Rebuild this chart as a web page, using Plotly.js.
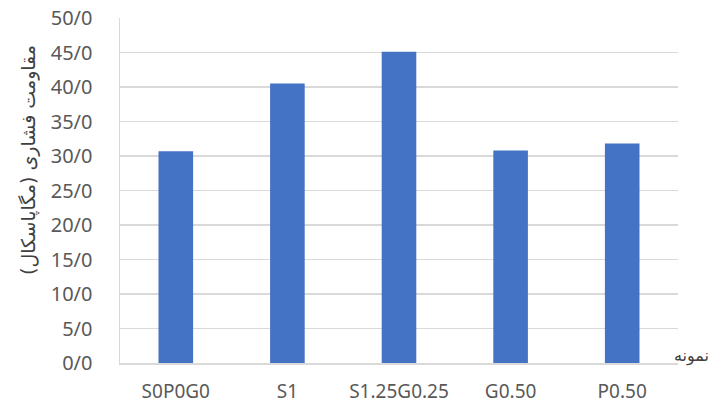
<!DOCTYPE html>
<html>
<head>
<meta charset="utf-8">
<script src="https://cdn.plot.ly/plotly-3.0.1.min.js"></script>
<style>html,body{margin:0;padding:0;background:#fff;}#chart{width:713px;height:405px;}</style>
</head>
<body>
<div id="chart"></div>
<script>
const categories = ["S0P0G0", "S1", "S1.25G0.25", "G0.50", "P0.50"];
const strengthValues = [30.7, 40.5, 45.1, 30.8, 31.8];
const yTickValues = [0, 5, 10, 15, 20, 25, 30, 35, 40, 45, 50];
const yTickLabels = ["0/0", "5/0", "10/0", "15/0", "20/0", "25/0", "30/0", "35/0", "40/0", "45/0", "50/0"];
const yTitle = "مقاومت فشاری (مگاپاسکال)";
const xTitle = "نمونه";

const W = 713, H = 405;
const m = {l: 120, r: 35, t: 18, b: 42};
const pw = W - m.l - m.r, ph = H - m.t - m.b;

const trace = {
  type: 'bar',
  x: categories,
  y: strengthValues,
  width: 0.31,
  marker: {color: '#4472C4', line: {width: 0}},
  hoverinfo: 'skip'
};

const layout = {
  width: W, height: H,
  margin: m,
  paper_bgcolor: '#ffffff',
  plot_bgcolor: '#ffffff',
  showlegend: false,
  font: {family: '"Noto Sans", sans-serif', color: '#595959', size: 20},
  xaxis: {
    type: 'category',
    range: [-0.5, 4.5],
    showgrid: false,
    showline: true, linecolor: '#D9D9D9', linewidth: 1.5,
    ticks: '', ticklabelstandoff: 11,
    tickfont: {family: '"Noto Sans", sans-serif', size: 19, color: '#595959'},
    zeroline: false, fixedrange: true
  },
  yaxis: {
    range: [0, 50],
    tickvals: yTickValues,
    ticktext: yTickLabels,
    showgrid: true, gridcolor: '#D9D9D9', gridwidth: 1.5,
    showline: true, linecolor: '#D9D9D9', linewidth: 1.5,
    ticks: '', ticklabelstandoff: 22,
    tickfont: {family: '"Noto Sans", sans-serif', size: 20, color: '#595959'},
    zeroline: false, fixedrange: true
  },
  annotations: [
    {
      text: yTitle, textangle: -90,
      xref: 'paper', yref: 'paper',
      x: (28 - m.l) / pw, y: (H - m.b - 160) / ph,
      xanchor: 'center', yanchor: 'middle',
      showarrow: false,
      font: {family: '"DejaVu Sans", sans-serif', size: 19, color: '#404040'}
    },
    {
      text: xTitle,
      xref: 'paper', yref: 'paper',
      x: (711 - m.l) / pw, y: (H - m.b - 356) / ph,
      xanchor: 'right', yanchor: 'middle',
      showarrow: false,
      font: {family: '"DejaVu Sans", sans-serif', size: 16, color: '#404040'}
    }
  ]
};

Plotly.newPlot('chart', [trace], layout, {displayModeBar: false, staticPlot: true});
</script>
</body>
</html>
